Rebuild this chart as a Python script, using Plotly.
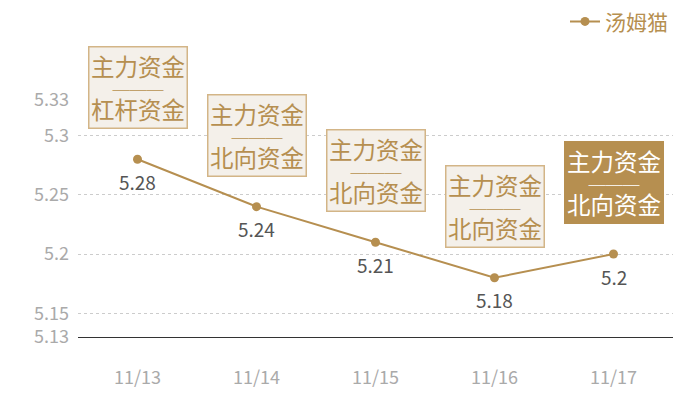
import plotly.graph_objects as go

# %% Data

dates = ['11/13', '11/14', '11/15', '11/16', '11/17']
values = [5.28, 5.24, 5.21, 5.18, 5.20]
value_labels = ['5.28', '5.24', '5.21', '5.18', '5.2']
box_top = ['主力资金'] * 5
box_bottom = ['杠杆资金', '北向资金', '北向资金', '北向资金', '北向资金']
y_ticks = [5.13, 5.15, 5.2, 5.25, 5.3, 5.33]
y_tick_text = ['5.13', '5.15', '5.2', '5.25', '5.3', '5.33']

gold = '#b68f50'
font = 'Noto Sans CJK SC'

# %% Figure

fig = go.Figure()

fig.add_trace(go.Scatter(
    x=dates, y=values, name='汤姆猫',
    mode='lines+markers',
    line=dict(color=gold, width=2),
    marker=dict(color=gold, size=9),
))

for i, d in enumerate(dates):
    last = i == len(dates) - 1

    # value under the point
    fig.add_annotation(
        x=d, y=values[i], text=value_labels[i], showarrow=False,
        yanchor='middle', yshift=-22,
        font=dict(color='#555555', size=19, family=font),
    )

    # box above the point, the last one filled
    span = '<span style="font-size:23.5px">%s</span>'
    fig.add_annotation(
        x=d, y=values[i],
        text='<br>'.join([span % box_top[i],
                          '<span style="font-size:17px">───</span>',
                          span % box_bottom[i]]),
        showarrow=False, yanchor='bottom', yshift=30,
        font=dict(color='white' if last else gold, size=16.5, family=font),
        bgcolor=gold if last else '#f4f0ea',
        bordercolor=gold if last else '#d3b587',
        borderwidth=1.5, borderpad=1.5,
    )

# page body has an 8px margin, so margins are shifted by it
fig.update_layout(
    width=700, height=400,
    margin=dict(l=70, r=35, t=92, b=71, autoexpand=False),
    plot_bgcolor='white', paper_bgcolor='white',
    font=dict(family=font),
    showlegend=True,
    legend=dict(x=1.0, xanchor='right', y=1.33, yanchor='middle',
                font=dict(color=gold, size=21, family=font),
                itemwidth=30, bgcolor='rgba(0,0,0,0)'),
)

fig.update_xaxes(
    type='category', range=[-0.5, 4.5],
    showgrid=False, zeroline=False,
    showline=True, linecolor='#333333', linewidth=1,
    ticks='', ticklabelstandoff=24,
    tickfont=dict(color='#aaaaaa', size=18, family=font),
)

fig.update_yaxes(
    range=[5.13, 5.33], tickvals=y_ticks, ticktext=y_tick_text,
    showgrid=True, gridcolor='#cccccc', griddash='dot', gridwidth=1,
    zeroline=False, showline=False, ticks='', ticklabelstandoff=8,
    tickfont=dict(color='#aaaaaa', size=18, family=font),
)

fig.write_html('out.html')
